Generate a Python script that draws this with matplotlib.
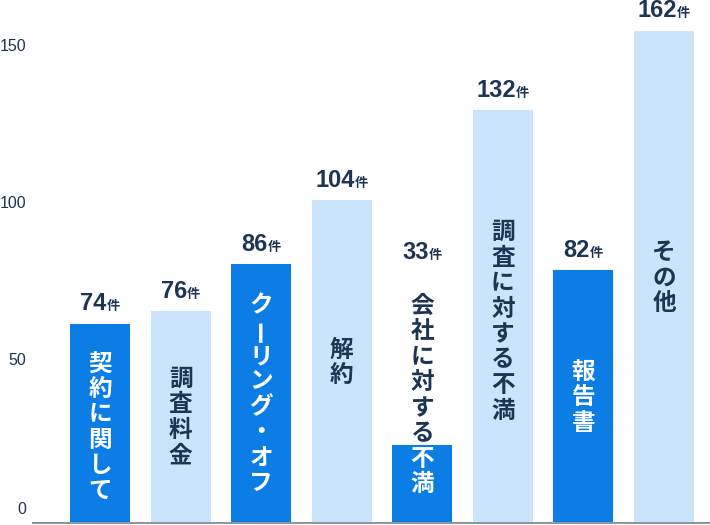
import matplotlib
matplotlib.use("Agg")
import matplotlib.pyplot as plt
from matplotlib.offsetbox import TextArea, HPacker, AnnotationBbox

# data
categories = ["契約に関して", "調査料金", "クーリング・オフ", "解約",
              "会社に対する不満", "調査に対する不満", "報告書", "その他"]
counts = [74, 76, 86, 104, 33, 132, 82, 162]
# drawn bar heights on the axis scale (the picture does not match the counts exactly)
bar_heights = [63.5, 67.4, 82.3, 102.8, 24.7, 131.4, 80.5, 156.7]
yticks = [0, 50, 100, 150]

# layout: vertical centre of the stacked category text, in axis units
text_centres = [30.5, 33.7, 41.0, 51.2, 40.7, 64.2, 40.0, 78.2]

DARK = "#0b7de5"
LIGHT = "#c9e4fb"
NAVY = "#1d3452"
CJK = ["Noto Sans CJK JP", "DejaVu Sans"]
PX = 72 / 100  # points per pixel at dpi 100
PITCH = 25.5 * PX
UNIT_PX = 3.14  # pixels per axis unit

fig = plt.figure(figsize=(7.1, 5.25), dpi=100)
ax = fig.add_axes([33 / 710, 2 / 525, 677 / 710, 523 / 525])
ax.set_xlim(-0.832, 7.571)
ax.set_ylim(0, 166.5)

for s in ["left", "right", "top"]:
    ax.spines[s].set_visible(False)
ax.spines["bottom"].set_color("#8c97a3")
ax.spines["bottom"].set_linewidth(2 * PX)
ax.spines["bottom"].set_zorder(5)
ax.set_xticks([])
ax.set_yticks([])

for v in yticks:
    dy = 13.7 if v == 0 else 5.7
    ax.annotate(str(v), xy=(0, v), xycoords=("axes fraction", "data"),
                xytext=(-7 * PX, dy * PX), textcoords="offset points",
                ha="right", va="center", fontsize=11.5,
                family="Liberation Sans", color=NAVY)

for i, (cat, n, h, c) in enumerate(zip(categories, counts, bar_heights, text_centres)):
    is_dark = i % 2 == 0
    bar = ax.bar(i, h, width=0.745, color=DARK if is_dark else LIGHT,
                 zorder=2, linewidth=0)[0]

    k = len(cat)
    for j, ch in enumerate(cat):
        off = ((k - 1) / 2 - j) * PITCH
        rot = 90 if ch == "ー" else 0
        kw = dict(xy=(i, c), xytext=(0, off), textcoords="offset points",
                  ha="center", va="center", fontsize=17, fontweight="bold",
                  family=CJK, rotation=rot, rotation_mode="anchor")
        if is_dark:
            ax.annotate(ch, color=NAVY, zorder=1, **kw)
            t = ax.annotate(ch, color="white", zorder=4, **kw)
            t.set_clip_path(bar)
        else:
            ax.annotate(ch, color=NAVY, zorder=4, **kw)

    # value label sits above the bar, or above the text when it sticks out
    text_top = c + (k / 2) * 25.5 / UNIT_PX
    anchor = h if text_top <= h else text_top + 6.7
    num = TextArea(str(n), textprops=dict(fontsize=17, fontweight="bold",
                                          family="Liberation Sans", color=NAVY))
    unit = TextArea("件", textprops=dict(fontsize=9.5, fontweight="bold",
                                        family=CJK, color=NAVY))
    box = HPacker(children=[num, unit], align="baseline", pad=0, sep=0)
    ab = AnnotationBbox(box, (i, anchor), xybox=(0, 20 * PX),
                        boxcoords="offset points", box_alignment=(0.5, 0.5),
                        frameon=False, pad=0)
    ax.add_artist(ab)

fig.savefig("out.png", dpi=100)
